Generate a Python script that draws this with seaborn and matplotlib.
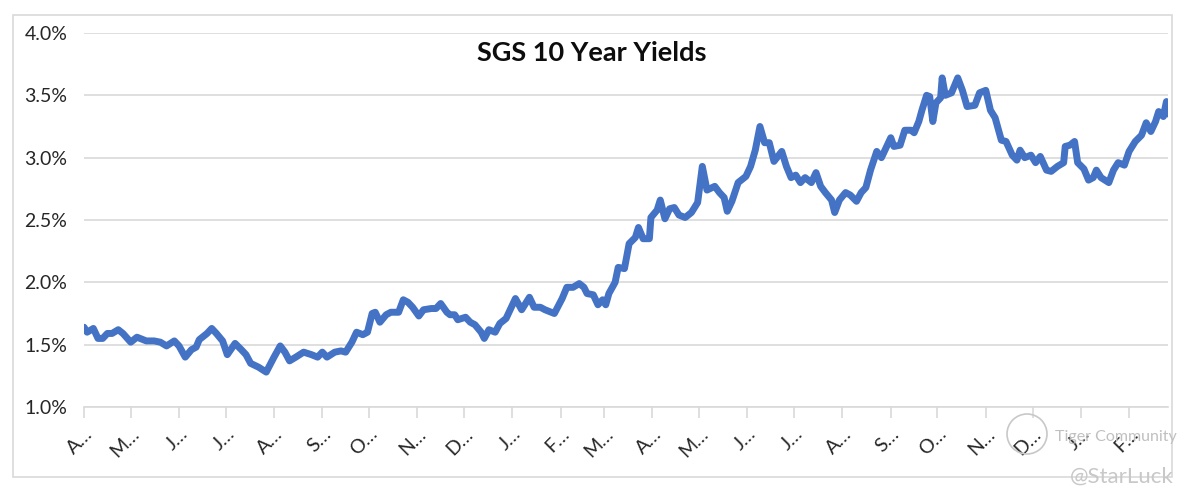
import seaborn as sns
import matplotlib.pyplot as plt
import matplotlib.ticker as mticker
from matplotlib.patches import Rectangle, Ellipse
import pandas as pd

# SGS 10 year yield (%)
dates = [
    "2021-04-01", "2021-04-03", "2021-04-07", "2021-04-10", "2021-04-13", "2021-04-16",
    "2021-04-19", "2021-04-23", "2021-04-26", "2021-05-01", "2021-05-05", "2021-05-11",
    "2021-05-16", "2021-05-20", "2021-05-24", "2021-05-29", "2021-06-01", "2021-06-05",
    "2021-06-09", "2021-06-12", "2021-06-14", "2021-06-19", "2021-06-22", "2021-06-25",
    "2021-06-29", "2021-07-02", "2021-07-07", "2021-07-11", "2021-07-14", "2021-07-17",
    "2021-07-22", "2021-07-27", "2021-08-01", "2021-08-05", "2021-08-08", "2021-08-11",
    "2021-08-15", "2021-08-20", "2021-08-25", "2021-08-29", "2021-09-01", "2021-09-04",
    "2021-09-09", "2021-09-13", "2021-09-16", "2021-09-20", "2021-09-23", "2021-09-27",
    "2021-09-30", "2021-10-03", "2021-10-05", "2021-10-08", "2021-10-12", "2021-10-15",
    "2021-10-20", "2021-10-23", "2021-10-26", "2021-10-29", "2021-11-02", "2021-11-05",
    "2021-11-10", "2021-11-13", "2021-11-16", "2021-11-20", "2021-11-22", "2021-11-25",
    "2021-11-27", "2021-12-02", "2021-12-05", "2021-12-08", "2021-12-12", "2021-12-14",
    "2021-12-17", "2021-12-21", "2021-12-24", "2021-12-28", "2021-12-31", "2022-01-03",
    "2022-01-07", "2022-01-12", "2022-01-15", "2022-01-19", "2022-01-22", "2022-01-28",
    "2022-02-02", "2022-02-05", "2022-02-09", "2022-02-13", "2022-02-16", "2022-02-18",
    "2022-02-22", "2022-02-25", "2022-02-28", "2022-03-02", "2022-03-04", "2022-03-08",
    "2022-03-10", "2022-03-14", "2022-03-17", "2022-03-21", "2022-03-23", "2022-03-26",
    "2022-03-30", "2022-03-31", "2022-04-04", "2022-04-06", "2022-04-09", "2022-04-12",
    "2022-04-15", "2022-04-18", "2022-04-22", "2022-04-26", "2022-04-30", "2022-05-03",
    "2022-05-06", "2022-05-11", "2022-05-14", "2022-05-17", "2022-05-19", "2022-05-22",
    "2022-05-26", "2022-05-31", "2022-06-03", "2022-06-06", "2022-06-09", "2022-06-12",
    "2022-06-15", "2022-06-18", "2022-06-23", "2022-06-26", "2022-06-29", "2022-07-02",
    "2022-07-05", "2022-07-08", "2022-07-12", "2022-07-15", "2022-07-18", "2022-07-21",
    "2022-07-25", "2022-07-27", "2022-07-30", "2022-08-03", "2022-08-06", "2022-08-10",
    "2022-08-13", "2022-08-16", "2022-08-19", "2022-08-23", "2022-08-26", "2022-08-29",
    "2022-09-01", "2022-09-03", "2022-09-07", "2022-09-10", "2022-09-14", "2022-09-16",
    "2022-09-19", "2022-09-21", "2022-09-24", "2022-09-26", "2022-09-28", "2022-09-30",
    "2022-10-03", "2022-10-04", "2022-10-06", "2022-10-10", "2022-10-14", "2022-10-17",
    "2022-10-20", "2022-10-25", "2022-10-28", "2022-11-01", "2022-11-04", "2022-11-07",
    "2022-11-11", "2022-11-14", "2022-11-18", "2022-11-21", "2022-11-23", "2022-11-26",
    "2022-11-30", "2022-12-03", "2022-12-06", "2022-12-10", "2022-12-13", "2022-12-17",
    "2022-12-21", "2022-12-22", "2022-12-25", "2022-12-28", "2022-12-30", "2023-01-03",
    "2023-01-06", "2023-01-09", "2023-01-11", "2023-01-14", "2023-01-19", "2023-01-22",
    "2023-01-25", "2023-01-29", "2023-02-01", "2023-02-05", "2023-02-09", "2023-02-12",
    "2023-02-15", "2023-02-18", "2023-02-20", "2023-02-23", "2023-02-25", "2023-02-26",
]
yields = [
    1.64, 1.60, 1.63, 1.55, 1.55, 1.59,
    1.59, 1.62, 1.59, 1.52, 1.56, 1.53,
    1.53, 1.52, 1.49, 1.53, 1.49, 1.40,
    1.46, 1.48, 1.54, 1.59, 1.63, 1.59,
    1.53, 1.42, 1.51, 1.46, 1.42, 1.35,
    1.32, 1.28, 1.40, 1.49, 1.44, 1.37,
    1.40, 1.44, 1.42, 1.40, 1.44, 1.40,
    1.44, 1.45, 1.44, 1.52, 1.60, 1.58,
    1.60, 1.75, 1.76, 1.68, 1.74, 1.76,
    1.76, 1.86, 1.84, 1.80, 1.73, 1.78,
    1.79, 1.79, 1.83, 1.76, 1.74, 1.74,
    1.70, 1.72, 1.68, 1.66, 1.60, 1.55,
    1.62, 1.60, 1.67, 1.71, 1.79, 1.87,
    1.78, 1.88, 1.80, 1.80, 1.78, 1.75,
    1.87, 1.96, 1.96, 1.99, 1.96, 1.91,
    1.90, 1.82, 1.86, 1.82, 1.91, 2.00,
    2.12, 2.11, 2.31, 2.36, 2.44, 2.35,
    2.35, 2.52, 2.58, 2.66, 2.51, 2.59,
    2.60, 2.54, 2.52, 2.56, 2.64, 2.93,
    2.74, 2.77, 2.72, 2.68, 2.57, 2.65,
    2.80, 2.85, 2.93, 3.06, 3.25, 3.12,
    3.12, 2.97, 3.05, 2.93, 2.84, 2.86,
    2.80, 2.84, 2.80, 2.88, 2.77, 2.72,
    2.66, 2.56, 2.66, 2.72, 2.70, 2.65,
    2.72, 2.76, 2.90, 3.05, 3.00, 3.08,
    3.16, 3.09, 3.10, 3.22, 3.22, 3.20,
    3.29, 3.38, 3.50, 3.49, 3.29, 3.44,
    3.48, 3.64, 3.50, 3.52, 3.64, 3.54,
    3.41, 3.42, 3.52, 3.54, 3.38, 3.32,
    3.14, 3.13, 3.02, 2.98, 3.06, 3.00,
    3.02, 2.96, 3.01, 2.90, 2.89, 2.93,
    2.96, 3.09, 3.10, 3.13, 2.96, 2.91,
    2.82, 2.84, 2.90, 2.84, 2.80, 2.90,
    2.96, 2.94, 3.05, 3.13, 3.18, 3.28,
    3.21, 3.29, 3.37, 3.33, 3.45, 3.35,
]
title = "SGS 10 Year Yields"

df = pd.DataFrame({"date": pd.to_datetime(dates), "yield": yields})

sns.set_theme(style="white")
plt.rcParams["font.family"] = ["Lato", "DejaVu Sans"]

fig = plt.figure(figsize=(12, 5.04), dpi=100)
# outer chart border
fig.patches.append(Rectangle((13 / 1200, 1 - 477 / 504), 1159 / 1200, 462 / 504,
                             transform=fig.transFigure, fill=False,
                             edgecolor="#d9d9d9", linewidth=1.2))

ax = fig.add_axes([84 / 1200, 1 - 407 / 504, 1084 / 1200, 374 / 504])
sns.lineplot(data=df, x="date", y="yield", ax=ax, color="#4472c4", linewidth=5)

ax.set_ylim(1.0, 4.0)
ax.set_xlim(pd.Timestamp("2021-04-01"), pd.Timestamp("2023-02-26"))
ax.set_yticks([1.0, 1.5, 2.0, 2.5, 3.0, 3.5, 4.0])
ax.yaxis.set_major_formatter(mticker.FuncFormatter(lambda v, p: f"{v:.1f}%"))
ax.grid(axis="y", color="#d9d9d9", linewidth=1.2)
ax.set_axisbelow(True)

months = pd.date_range("2021-04-01", "2023-02-01", freq="MS")
ax.set_xticks(months)
ax.set_xticklabels([m.strftime("%b")[0] + "\u2026" for m in months],
                   rotation=45, ha="right", rotation_mode="anchor")

for s in ["top", "right", "left"]:
    ax.spines[s].set_visible(False)
ax.spines["bottom"].set_color("#d9d9d9")
ax.spines["bottom"].set_linewidth(1.2)
ax.tick_params(axis="x", bottom=True, length=8, width=1.2, color="#d9d9d9",
               labelsize=14, labelcolor="#262626", pad=5)
ax.tick_params(axis="y", left=False, labelsize=14, labelcolor="#262626", pad=6)
ax.set_xlabel("")
ax.set_ylabel("")

fig.text(592 / 1200, 1 - 53 / 504, title, ha="center", va="center",
         fontsize=19.5, fontweight="bold", color="#0d0d0d")

# watermark
fig.patches.append(Ellipse((1027 / 1200, 1 - 434 / 504), 40 / 1200, 40 / 504,
                           transform=fig.transFigure, fill=False,
                           edgecolor="#c8c8c8", linewidth=1.2))
fig.text(1055 / 1200, 1 - 437 / 504, "Tiger Community", fontsize=11.5,
         color="#c0c0c0", va="center")
fig.text(1070 / 1200, 1 - 477 / 504, "@StarLuck", fontsize=16,
         color="#c8c8c8", va="center")

fig.savefig("out.png", dpi=100)
